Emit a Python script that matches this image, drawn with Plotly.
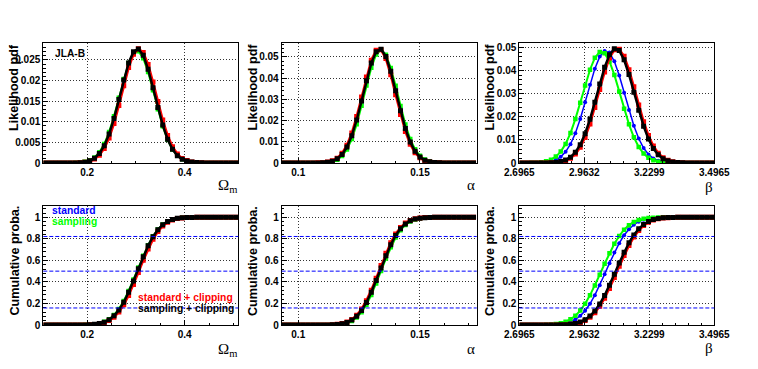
import plotly.graph_objects as go

# The page body has an 8 px margin, so the figure is drawn 8 px in and is sized to fit the window.
OFF = 8
W, H = 758 - OFF, 369 - OFF

# ---------------- data: bin centres ----------------
OM = [0.115, 0.125, 0.135, 0.145, 0.155, 0.165, 0.175, 0.185, 0.195, 0.205,
      0.215, 0.225, 0.235, 0.245, 0.255, 0.265, 0.275, 0.285, 0.295, 0.305,
      0.315, 0.325, 0.335, 0.345, 0.355, 0.365, 0.375, 0.385, 0.395, 0.405,
      0.415, 0.425, 0.435, 0.445, 0.455, 0.465, 0.475, 0.485, 0.495, 0.505]
AL = [0.094, 0.096, 0.098, 0.100, 0.102, 0.104, 0.106, 0.108, 0.110, 0.112,
      0.114, 0.116, 0.118, 0.120, 0.122, 0.124, 0.126, 0.128, 0.130, 0.132,
      0.134, 0.136, 0.138, 0.140, 0.142, 0.144, 0.146, 0.148, 0.150, 0.152,
      0.154, 0.156, 0.158, 0.160, 0.162, 0.164, 0.166, 0.168, 0.170, 0.172]
BE = [2.7065, 2.7265, 2.7465, 2.7665, 2.7865, 2.8065, 2.8265, 2.8465, 2.8665, 2.8865,
      2.9065, 2.9265, 2.9465, 2.9665, 2.9865, 3.0065, 3.0265, 3.0465, 3.0665, 3.0865,
      3.1065, 3.1265, 3.1465, 3.1665, 3.1865, 3.2065, 3.2265, 3.2465, 3.2665, 3.2865,
      3.3065, 3.3265, 3.3465, 3.3665, 3.3865, 3.4065, 3.4265, 3.4465, 3.4665, 3.4865]

# ---------------- Omega_m : likelihood pdf ----------------
OM_PDF_STD = [0, 0, 0, 0, 0, 0, 0.00004, 0.0001, 0.00026, 0.0006,
              0.00126, 0.00245, 0.00439, 0.00726, 0.01107, 0.01559, 0.02024, 0.02426, 0.02684, 0.02738,
              0.02578, 0.02239, 0.01795, 0.01327, 0.00906, 0.0057, 0.00331, 0.00178, 0.00088, 0.00042,
              0.00018, 0.00007, 0.00003, 0, 0, 0, 0, 0, 0, 0]
OM_PDF_SMP = [0, 0, 0, 0, 0, 0, 0.00005, 0.00012, 0.00029, 0.00065,
              0.00135, 0.00259, 0.00458, 0.00749, 0.01132, 0.0158, 0.02037, 0.02425, 0.02668, 0.0271,
              0.02543, 0.02205, 0.01766, 0.01306, 0.00892, 0.00563, 0.00328, 0.00177, 0.00088, 0.0004,
              0.00018, 0.00007, 0.00003, 0, 0, 0, 0, 0, 0, 0]
OM_PDF_STDC = [0, 0, 0, 0, 0, 0, 0, 0.00007, 0.00018, 0.00043,
               0.00094, 0.0019, 0.00354, 0.00606, 0.00958, 0.01395, 0.01871, 0.02314, 0.02636, 0.02769,
               0.0268, 0.0239, 0.01965, 0.01489, 0.0104, 0.00669, 0.00397, 0.00217, 0.00109, 0.00058,
               0.00026, 0.00012, 0.00005, 0.00002, 0, 0, 0, 0, 0, 0]
OM_PDF_SMPC = [0, 0, 0, 0, 0, 0, 0.00003, 0.00007, 0.0002, 0.00055,
               0.00118, 0.00231, 0.0042, 0.00702, 0.01082, 0.01537, 0.02011, 0.02427, 0.02699, 0.02766,
               0.02612, 0.02273, 0.01824, 0.01348, 0.00919, 0.00577, 0.00334, 0.00178, 0.00088, 0.00048,
               0.00022, 0.0001, 0.00004, 0.00001, 0, 0, 0, 0, 0, 0]

# ---------------- Omega_m : cumulative ----------------
OM_CDF_STD = [0, 0, 0, 0, 0, 0, 0.0001, 0.0004, 0.0011, 0.0028,
              0.0065, 0.014, 0.0278, 0.0515, 0.089, 0.1437, 0.2176, 0.3098, 0.4157, 0.5283,
              0.6385, 0.7384, 0.8217, 0.886, 0.9318, 0.9618, 0.9802, 0.9903, 0.9956, 0.9981,
              0.9993, 0.9998, 1, 1, 1, 1, 1, 1, 1, 1]
OM_CDF_SMP = [0, 0, 0, 0, 0, 0, 0.0002, 0.0005, 0.0013, 0.0031,
              0.0071, 0.015, 0.0296, 0.0541, 0.0928, 0.1487, 0.2234, 0.316, 0.4219, 0.5339,
              0.6428, 0.7415, 0.8238, 0.8871, 0.9323, 0.962, 0.9801, 0.9903, 0.9956, 0.9981,
              0.9993, 0.9998, 1, 1, 1, 1, 1, 1, 1, 1]
OM_CDF_STDC = [0, 0, 0, 0, 0, 0, 0.0001, 0.0003, 0.0008, 0.002,
               0.0047, 0.0103, 0.0212, 0.0407, 0.0726, 0.1208, 0.1878, 0.2743, 0.3767, 0.4885,
               0.6015, 0.7064, 0.7964, 0.8674, 0.9192, 0.9541, 0.9757, 0.988, 0.9945, 0.9977,
               0.9991, 0.9997, 0.9999, 1, 1, 1, 1, 1, 1, 1]
OM_CDF_SMPC = [0, 0, 0, 0, 0, 0, 0.0001, 0.0004, 0.001, 0.0026,
               0.006, 0.0129, 0.026, 0.0488, 0.0852, 0.1388, 0.2119, 0.3036, 0.4095, 0.5227,
               0.6342, 0.7353, 0.8197, 0.8849, 0.9313, 0.9617, 0.9802, 0.9904, 0.9957, 0.9982,
               0.9993, 0.9998, 1, 1, 1, 1, 1, 1, 1, 1]

# ---------------- alpha : likelihood pdf ----------------
AL_PDF_STD = [0, 0, 0, 0, 0, 0, 0, 0.00004, 0.00012, 0.0003,
              0.00076, 0.00173, 0.00358, 0.00683, 0.01192, 0.01905, 0.02789, 0.03745, 0.04609, 0.05202,
              0.05382, 0.05106, 0.04444, 0.03546, 0.02596, 0.01743, 0.01074, 0.00607, 0.00316, 0.0015,
              0.00065, 0.00027, 0.0001, 0.00003, 0.00001, 0, 0, 0, 0, 0]
AL_PDF_SMP = [0, 0, 0, 0, 0, 0, 0, 0.00003, 0.0001, 0.00027,
              0.00068, 0.00157, 0.00331, 0.00639, 0.01128, 0.01823, 0.02697, 0.03656, 0.04496, 0.05117,
              0.0534, 0.05106, 0.0448, 0.0364, 0.02685, 0.01817, 0.01128, 0.00643, 0.00337, 0.00161,
              0.00071, 0.00029, 0.00011, 0.00004, 0.00001, 0, 0, 0, 0, 0]
AL_PDF_STDC = [0, 0, 0, 0, 0, 0, 0.00001, 0.00006, 0.00017, 0.00043,
               0.00104, 0.00227, 0.00455, 0.00839, 0.01416, 0.02192, 0.03113, 0.04057, 0.04849, 0.05316,
               0.05343, 0.04924, 0.0416, 0.03221, 0.02286, 0.01486, 0.00885, 0.00483, 0.00242, 0.0011,
               0.00046, 0.00018, 0.00006, 0.00002, 0.00001, 0, 0, 0, 0, 0]
AL_PDF_SMPC = [0, 0, 0, 0, 0, 0, 0.00001, 0.00005, 0.00014, 0.00036,
               0.00088, 0.00196, 0.004, 0.0075, 0.01288, 0.02028, 0.02928, 0.03879, 0.04712, 0.05251,
               0.05365, 0.05028, 0.04322, 0.03407, 0.02463, 0.01633, 0.00993, 0.00554, 0.00284, 0.00133,
               0.00057, 0.00023, 0.00008, 0.00003, 0.00001, 0, 0, 0, 0, 0]

# ---------------- alpha : cumulative ----------------
AL_CDF_STD = [0, 0, 0, 0, 0, 0, 0, 0.0001, 0.0002, 0.0007,
              0.0018, 0.0043, 0.0099, 0.021, 0.041, 0.0745, 0.1254, 0.1967, 0.2881, 0.3956,
              0.5122, 0.6273, 0.732, 0.8194, 0.8863, 0.9333, 0.9636, 0.9816, 0.9914, 0.9962,
              0.9985, 0.9994, 0.9998, 0.9999, 1, 1, 1, 1, 1, 1]
AL_CDF_SMP = [0, 0, 0, 0, 0, 0, 0, 0.0001, 0.0002, 0.0006,
              0.0016, 0.0038, 0.009, 0.0193, 0.0382, 0.07, 0.119, 0.1883, 0.2779, 0.3843,
              0.5006, 0.6164, 0.7226, 0.8119, 0.8809, 0.9296, 0.9614, 0.9803, 0.9907, 0.9959,
              0.9983, 0.9994, 0.9998, 0.9999, 1, 1, 1, 1, 1, 1]
AL_CDF_STDC = [0, 0, 0, 0, 0, 0, 0, 0.0001, 0.0004, 0.001,
               0.0025, 0.0059, 0.0132, 0.027, 0.0512, 0.0902, 0.1478, 0.2261, 0.3236, 0.4352,
               0.5526, 0.6652, 0.7647, 0.8453, 0.9052, 0.946, 0.9715, 0.986, 0.9937, 0.9973,
               0.999, 0.9996, 0.9999, 1, 1, 1, 1, 1, 1, 1]
AL_CDF_SMPC = [0, 0, 0, 0, 0, 0, 0, 0.0001, 0.0003, 0.0008,
               0.0021, 0.005, 0.0113, 0.0236, 0.0454, 0.0812, 0.135, 0.2093, 0.3033, 0.4126,
               0.5295, 0.6435, 0.746, 0.8305, 0.8944, 0.9387, 0.967, 0.9835, 0.9924, 0.9967,
               0.9987, 0.9995, 0.9998, 0.9999, 1, 1, 1, 1, 1, 1]

# ---------------- beta : likelihood pdf ----------------
BE_PDF_STD = [0, 0.00001, 0.00002, 0.00005, 0.00013, 0.0003, 0.00067, 0.00138, 0.00267, 0.00482,
              0.00815, 0.01288, 0.01901, 0.02623, 0.03385, 0.04081, 0.04601, 0.04847, 0.04775, 0.04396,
              0.03783, 0.03043, 0.02289, 0.01609, 0.01057, 0.00649, 0.00373, 0.002, 0.001, 0.00047,
              0.00021, 0.00008, 0.00003, 0.00001, 0, 0, 0, 0, 0, 0]
BE_PDF_SMP = [0.00001, 0.00002, 0.00006, 0.00014, 0.00033, 0.00071, 0.00145, 0.00277, 0.00494, 0.00826,
              0.01294, 0.01898, 0.02606, 0.03351, 0.04035, 0.0455, 0.04803, 0.04748, 0.04395, 0.0381,
              0.03092, 0.0235, 0.01672, 0.01114, 0.00695, 0.00406, 0.00222, 0.00114, 0.00055, 0.00025,
              0.0001, 0.00004, 0.00002, 0.00001, 0, 0, 0, 0, 0, 0]
BE_PDF_STDC = [0, 0, 0, 0, 0.00001, 0.00003, 0.00008, 0.00021, 0.00048, 0.00103,
               0.00207, 0.00388, 0.00679, 0.01108, 0.01688, 0.02398, 0.0318, 0.03935, 0.04543, 0.04894,
               0.04919, 0.04614, 0.04038, 0.03298, 0.02513, 0.01786, 0.01186, 0.00734, 0.00424, 0.00228,
               0.00115, 0.00054, 0.00024, 0.0001, 0.00004, 0.00001, 0, 0, 0, 0]
BE_PDF_SMPC = [0, 0, 0, 0.00001, 0.00002, 0.00004, 0.00011, 0.00027, 0.00061, 0.00128,
               0.00252, 0.00462, 0.00792, 0.01266, 0.01889, 0.02629, 0.03415, 0.04138, 0.04679, 0.04937,
               0.04861, 0.04465, 0.03828, 0.03062, 0.02285, 0.01591, 0.01034, 0.00627, 0.00355, 0.00187,
               0.00092, 0.00042, 0.00018, 0.00007, 0.00003, 0.00001, 0, 0, 0, 0]

# ---------------- beta : cumulative ----------------
BE_CDF_STD = [0, 0.00001, 0.00004, 0.0001, 0.00028, 0.00071, 0.0017, 0.0038, 0.008, 0.0158,
              0.0293, 0.0514, 0.0852, 0.1332, 0.1971, 0.2769, 0.3696, 0.4709, 0.5742, 0.6722,
              0.7599, 0.833, 0.8897, 0.9312, 0.9595, 0.9775, 0.9882, 0.9942, 0.9973, 0.9988,
              0.9995, 0.9998, 0.9999, 1, 1, 1, 1, 1, 1, 1]
BE_CDF_SMP = [0.00001, 0.00004, 0.00012, 0.00032, 0.00079, 0.00184, 0.00406, 0.0084, 0.0164, 0.0302,
              0.0524, 0.0861, 0.1338, 0.1969, 0.2756, 0.3669, 0.4669, 0.5687, 0.666, 0.7536,
              0.8269, 0.8847, 0.9272, 0.9565, 0.9755, 0.9869, 0.9934, 0.9969, 0.9986, 0.9994,
              0.9998, 0.9999, 1, 1, 1, 1, 1, 1, 1, 1]
BE_CDF_STDC = [0, 0, 0, 0.00001, 0.00002, 0.00006, 0.00018, 0.00047, 0.00116, 0.0027,
               0.00589, 0.012, 0.0231, 0.0418, 0.0712, 0.1143, 0.1733, 0.2489, 0.3394, 0.44,
               0.5446, 0.6462, 0.7383, 0.8163, 0.8778, 0.9233, 0.9546, 0.9746, 0.9867, 0.9934,
               0.997, 0.9987, 0.9995, 0.9998, 0.9999, 1, 1, 1, 1, 1]
BE_CDF_SMPC = [0, 0, 0, 0.00001, 0.00003, 0.00009, 0.00024, 0.00062, 0.0015, 0.00343,
               0.00733, 0.01474, 0.0278, 0.0494, 0.0826, 0.1303, 0.1944, 0.2749, 0.3688, 0.4713,
               0.5757, 0.6751, 0.7633, 0.8365, 0.8932, 0.9341, 0.9616, 0.979, 0.9892, 0.9948,
               0.9976, 0.999, 0.9996, 0.9998, 0.9999, 1, 1, 1, 1, 1]

SERIES = ["standard", "sampling", "standard + clipping", "sampling + clipping"]
REF_LEVELS = [0.158, 0.5, 0.822]
BETA_TICKS = [2.69654, 2.96321, 3.22987, 3.49654]
BETA_LABELS = ["2.6965", "2.9632", "3.2299", "3.4965"]

STYLE = {
    "standard": dict(color="#0000ff", symbol="circle", size=4, lw=1.5),
    "sampling": dict(color="#00ff00", symbol="square", size=4.5, lw=2),
    "standard + clipping": dict(color="#ff0000", symbol="square", size=5, lw=2.5),
    "sampling + clipping": dict(color="#000000", symbol="square", size=5, lw=2.5),
}

panels = [
    (OM, [OM_PDF_STD, OM_PDF_SMP, OM_PDF_STDC, OM_PDF_SMPC]),
    (AL, [AL_PDF_STD, AL_PDF_SMP, AL_PDF_STDC, AL_PDF_SMPC]),
    (BE, [BE_PDF_STD, BE_PDF_SMP, BE_PDF_STDC, BE_PDF_SMPC]),
    (OM, [OM_CDF_STD, OM_CDF_SMP, OM_CDF_STDC, OM_CDF_SMPC]),
    (AL, [AL_CDF_STD, AL_CDF_SMP, AL_CDF_STDC, AL_CDF_SMPC]),
    (BE, [BE_CDF_STD, BE_CDF_SMP, BE_CDF_STDC, BE_CDF_SMPC]),
]

fig = go.Figure()
for i, (xs, ys_list) in enumerate(panels, start=1):
    sfx = "" if i == 1 else str(i)
    for name, ys in zip(SERIES, ys_list):
        st = STYLE[name]
        fig.add_trace(go.Scatter(
            x=xs, y=ys, mode="lines+markers", name=name, showlegend=False,
            xaxis="x" + sfx, yaxis="y" + sfx,
            line=dict(color=st["color"], width=st["lw"]),
            marker=dict(color=st["color"], symbol=st["symbol"], size=st["size"],
                        line=dict(width=0)),
        ))


def px_x(p):
    # p: horizontal pixel position in the window
    return (p - OFF) / W


def px_y(p):
    # p: vertical pixel position in the window (from top)
    return 1 - (p - OFF) / H


COLS = [(43.3, 238.3), (281.7, 476.7), (519.3, 714.3)]
ROWS = [(43, 163), (206, 325)]

TICKFONT = dict(family="Liberation Sans, Arial, sans-serif", size=10, color="black", weight="bold")
GRID_DASH = "1px,2px"
MINOR = dict(ticks="inside", ticklen=2.5, tickcolor="black", showgrid=False)


def base_axis():
    return dict(
        showline=True, linecolor="black", linewidth=1, mirror=True,
        ticks="inside", ticklen=5, tickwidth=1, tickcolor="black",
        showgrid=True, gridcolor="#333333", griddash=GRID_DASH, gridwidth=1,
        zeroline=False, tickfont=TICKFONT, fixedrange=True, automargin=False,
    )


xranges = [[0.11, 0.51], [0.0932, 0.1733], [2.69654, 3.49654]]
yranges_top = [[0, 0.0291], [0, 0.0566], [0, 0.0519]]
layout = dict(width=W, height=H,
              margin=dict(l=0, r=0, t=0, b=0, pad=0, autoexpand=False), autosize=False,
              paper_bgcolor="white", plot_bgcolor="white", showlegend=False)

beta_minor = [BETA_TICKS[0] + j * 0.0533333 for j in range(1, 15) if j % 5]

for i in range(1, 7):
    row = 0 if i <= 3 else 1
    col = (i - 1) % 3
    sfx = "" if i == 1 else str(i)
    xa = base_axis()
    xa.update(domain=[px_x(COLS[col][0]), px_x(COLS[col][1])],
              range=xranges[col], anchor="y" + sfx)
    if col == 0:
        xa.update(tickmode="array", tickvals=[0.2, 0.4], ticktext=["0.2", "0.4"],
                  minor=dict(MINOR, tickmode="array", tickvals=[0.15, 0.25, 0.3, 0.35, 0.45, 0.5]))
    elif col == 1:
        xa.update(tickmode="array", tickvals=[0.1, 0.15], ticktext=["0.1", "0.15"],
                  minor=dict(MINOR, tickmode="array", tickvals=[0.11, 0.12, 0.13, 0.14, 0.16, 0.17]))
    else:
        xa.update(tickmode="array", tickvals=BETA_TICKS, ticktext=BETA_LABELS,
                  minor=dict(MINOR, tickmode="array", tickvals=beta_minor))
    ya = base_axis()
    ya.update(domain=[px_y(ROWS[row][1]), px_y(ROWS[row][0])], anchor="x" + sfx)
    if row == 0:
        ya.update(range=yranges_top[col])
        if col == 0:
            ya.update(tickmode="linear", tick0=0, dtick=0.005,
                      minor=dict(MINOR, dtick=0.001, tick0=0))
        else:
            ya.update(tickmode="linear", tick0=0, dtick=0.01,
                      minor=dict(MINOR, dtick=0.002, tick0=0))
    else:
        ya.update(range=[0, 1.105], tickmode="linear", tick0=0, dtick=0.2,
                  minor=dict(MINOR, dtick=0.04, tick0=0))
    layout["xaxis" + sfx] = xa
    layout["yaxis" + sfx] = ya

shapes = []
for i in (4, 5, 6):
    for lv in REF_LEVELS:
        shapes.append(dict(type="line", xref="x%d domain" % i, yref="y%d" % i,
                           x0=0, x1=1, y0=lv, y1=lv,
                           line=dict(color="#0000ff", width=1, dash="4px,2px")))
layout["shapes"] = shapes

BOLD = dict(family="Liberation Sans, Arial, sans-serif", color="black", weight="bold")
ann = []
# y titles
for xc in (14.5, 253, 490):
    ann.append(dict(text="Likelihood pdf", x=px_x(xc), y=px_y(43), xref="paper", yref="paper",
                    xanchor="center", yanchor="top", textangle=-90, showarrow=False,
                    borderpad=0, font=dict(BOLD, size=12.6)))
    ann.append(dict(text="Cumulative proba.", x=px_x(xc), y=px_y(205), xref="paper", yref="paper",
                    xanchor="center", yanchor="top", textangle=-90, showarrow=False,
                    borderpad=0, font=dict(BOLD, size=12.6)))
# x titles
GREEK = dict(family="Liberation Serif, DejaVu Serif, serif", color="black", size=15)
for label, xr, yt, yb in [("Ω<sub>m</sub>", 238.5, 186, 350),
                          ("α", 477, 185, 349),
                          ("β", 715, 187, 348)]:
    for yy in (yt, yb):
        ann.append(dict(text=label, x=px_x(xr), y=px_y(yy), xref="paper", yref="paper",
                        xanchor="right", yanchor="middle", showarrow=False, font=GREEK))
# JLA-B
ann.append(dict(text="JLA-B", x=px_x(53), y=px_y(53.5), xref="paper", yref="paper",
                xanchor="left", yanchor="middle", showarrow=False, font=dict(BOLD, size=10.2)))
# legend texts
LEG = [("standard", 50, 210.5, "left", "#0000ff"),
       ("sampling", 50, 221, "left", "#00ff00"),
       ("standard + clipping", 234.5, 297.5, "right", "#ff0000"),
       ("sampling + clipping", 236, 308.5, "right", "#000000")]
for txt, xx, yy, anc, colr in LEG:
    ann.append(dict(text=txt, x=px_x(xx), y=px_y(yy), xref="paper", yref="paper",
                    xanchor=anc, yanchor="middle", showarrow=False,
                    font=dict(BOLD, size=10.3, color=colr)))
layout["annotations"] = ann

fig.update_layout(**layout)
fig.write_html("out.html")
